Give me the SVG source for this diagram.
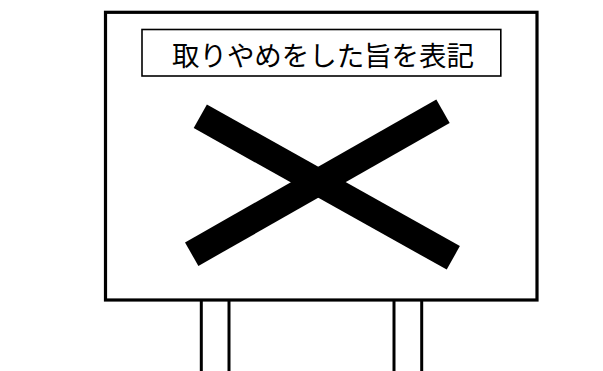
<svg xmlns="http://www.w3.org/2000/svg" width="603" height="371" viewBox="0 0 603 371">
  <style>
    .post { stroke: #000; stroke-width: 3; fill: none; }
    .board { fill: #fff; stroke: #000; stroke-width: 3.2; }
    .label-box { fill: #fff; stroke: #000; stroke-width: 1.6; }
    .label { font-family: "Noto Sans CJK JP", "Noto Sans CJK SC", sans-serif; font-size: 27.5px; fill: #000; }
    .bar { stroke: #000; stroke-width: 27; stroke-linecap: butt; }
  </style>
  <rect width="603" height="371" fill="#fff"/>
  <g id="posts">
    <line class="post" x1="201.3" y1="300" x2="201.3" y2="371"/>
    <line class="post" x1="229" y1="300" x2="229" y2="371"/>
    <line class="post" x1="394" y1="300" x2="394" y2="371"/>
    <line class="post" x1="421.7" y1="300" x2="421.7" y2="371"/>
  </g>
  <g id="board">
    <rect class="board" x="105.5" y="12.3" width="431.5" height="287.7"/>
  </g>
  <g id="label">
    <rect class="label-box" x="142" y="29.5" width="358.8" height="46.5"/>
    <text class="label" x="172" y="66" textLength="302" lengthAdjust="spacing">取りやめをした旨を表記</text>
  </g>
  <g id="cross">
    <line class="bar" x1="200.3" y1="116.3" x2="453.3" y2="257.8"/>
    <line class="bar" x1="191.7" y1="254.2" x2="443" y2="111.3"/>
  </g>
</svg>
